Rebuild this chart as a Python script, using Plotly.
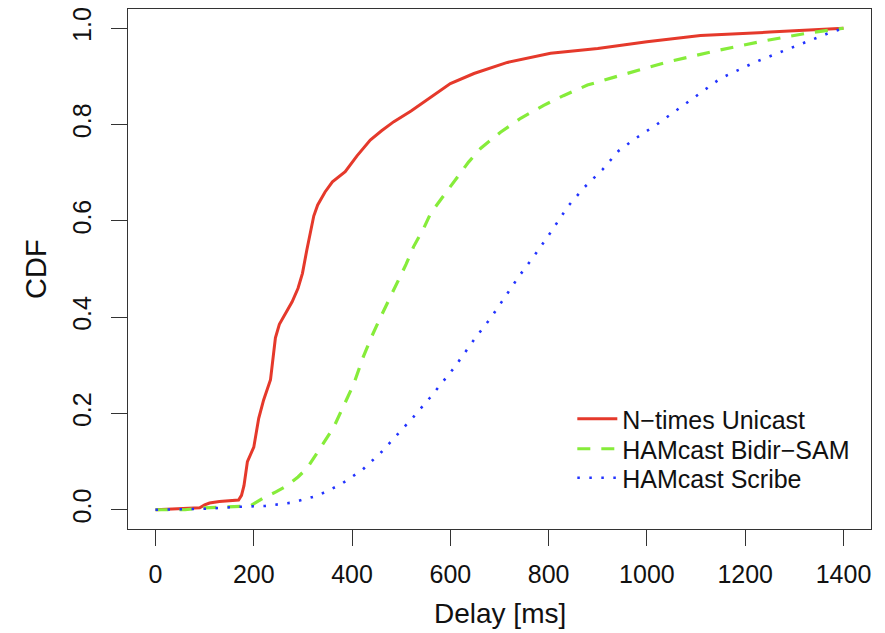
import plotly.graph_objects as go

# N-times Unicast
unicast_x = [0, 50, 90, 100, 110, 130, 169, 175, 180, 187, 200, 210, 220, 234, 244, 252, 266, 278, 290, 299,
             308, 315, 322, 330, 345, 360, 386, 410, 437, 460, 485, 520, 553, 600, 648, 716, 804, 900, 1000,
             1109, 1250, 1400]
unicast_y = [0.0, 0.002, 0.004, 0.01, 0.014, 0.017, 0.02, 0.03, 0.05, 0.10, 0.13, 0.19, 0.228, 0.27, 0.357,
             0.385, 0.41, 0.432, 0.46, 0.491, 0.54, 0.574, 0.61, 0.633, 0.66, 0.681, 0.702, 0.735, 0.768,
             0.787, 0.806, 0.828, 0.851, 0.885, 0.906, 0.929, 0.948, 0.958, 0.972, 0.985, 0.992, 1.0]

# HAMcast Bidir-SAM
bidir_x = [0, 60, 100, 150, 193, 220, 245, 268, 290, 309, 336, 362, 382, 403, 423, 440, 458, 475, 492, 510,
           525, 546, 560, 600, 637, 662, 702, 743, 790, 830, 879, 932, 1042, 1144, 1245, 1327, 1400]
bidir_y = [0.0, 0.0, 0.004, 0.006, 0.008, 0.025, 0.037, 0.05, 0.068, 0.087, 0.128, 0.17, 0.214, 0.26, 0.318,
           0.36, 0.40, 0.435, 0.47, 0.51, 0.546, 0.585, 0.616, 0.67, 0.722, 0.751, 0.784, 0.813, 0.84, 0.86,
           0.882, 0.898, 0.93, 0.954, 0.975, 0.99, 1.0]

# HAMcast Scribe
scribe_x = [0, 100, 167, 224, 279, 329, 376, 421, 458, 492, 525, 558, 607, 651, 682, 710, 739, 769, 798, 840,
            873, 910, 942, 975, 1024, 1085, 1150, 1221, 1296, 1370, 1400]
scribe_y = [0.0, 0.002, 0.006, 0.008, 0.015, 0.029, 0.052, 0.083, 0.118, 0.155, 0.193, 0.232, 0.294, 0.357,
            0.398, 0.44, 0.484, 0.525, 0.567, 0.631, 0.67, 0.707, 0.745, 0.77, 0.803, 0.848, 0.896, 0.93,
            0.961, 0.99, 1.0]

x_ticks = [0, 200, 400, 600, 800, 1000, 1200, 1400]
y_ticks = [0.0, 0.2, 0.4, 0.6, 0.8, 1.0]
y_tick_labels = ["0.0", "0.2", "0.4", "0.6", "0.8", "1.0"]

FONT = "Arial, Liberation Sans, Helvetica, sans-serif"

fig = go.Figure()
fig.add_trace(go.Scatter(x=unicast_x, y=unicast_y, mode="lines", name="N\u2212times Unicast",
                         legend="legend",
                         line=dict(color="#E5392B", width=3)))
fig.add_trace(go.Scatter(x=bidir_x, y=bidir_y, mode="lines", name="HAMcast Bidir\u2212SAM",
                         legend="legend2",
                         line=dict(color="#86EC3A", width=3.2, dash="13px,11px")))
fig.add_trace(go.Scatter(x=scribe_x, y=scribe_y, mode="lines", name="HAMcast Scribe",
                         legend="legend3",
                         line=dict(color="#2233FF", width=2.6, dash="2.5px,9.5px")))


def leg(y):
    return dict(x=0.598, y=y, xanchor="left", yanchor="middle",
                bgcolor="rgba(0,0,0,0)", borderwidth=0,
                font=dict(family=FONT, size=25, color="#111111"), itemwidth=40)


# page body has an 8px default margin, so the figure is sized to fit the window
fig.update_layout(
    width=877, height=625,
    margin=dict(l=120, r=14, t=1, b=104, autoexpand=False),
    paper_bgcolor="white", plot_bgcolor="white",
    font=dict(family=FONT, color="#111111", size=24),
    showlegend=True,
    legend=leg(0.2115), legend2=leg(0.1538), legend3=leg(0.098),
    xaxis=dict(range=[-56, 1456], tickmode="array", tickvals=x_ticks,
               ticktext=[str(v) for v in x_ticks], automargin=False,
               showgrid=False, zeroline=False, showline=True, mirror=True,
               linecolor="#333333", linewidth=1.3,
               ticks="outside", ticklen=16, tickwidth=1.2, tickcolor="#333333",
               ticklabelstandoff=7, ticklabeloverflow="allow",
               tickfont=dict(size=25, family=FONT, color="#111111")),
    yaxis=dict(range=[-0.04, 1.04], tickmode="array", tickvals=y_ticks, ticktext=y_tick_labels,
               automargin=False,
               showgrid=False, zeroline=False, showline=True, mirror=True,
               linecolor="#333333", linewidth=1.3,
               ticks="outside", ticklen=16, tickwidth=1.2, tickcolor="#333333",
               tickangle=-90, ticklabelstandoff=10, ticklabeloverflow="allow",
               tickfont=dict(size=25, family=FONT, color="#111111")),
    annotations=[
        dict(text="Delay [ms]", xref="paper", yref="paper", x=0.5, y=0, xanchor="center",
             yanchor="middle", yshift=-84, showarrow=False, font=dict(size=28, family=FONT, color="#111111")),
        dict(text="CDF", xref="paper", yref="paper", x=0, y=0.5, xanchor="center",
             yanchor="middle", xshift=-92, textangle=-90, showarrow=False,
             font=dict(size=29, family=FONT, color="#111111")),
    ],
)

fig.write_html("out.html")
